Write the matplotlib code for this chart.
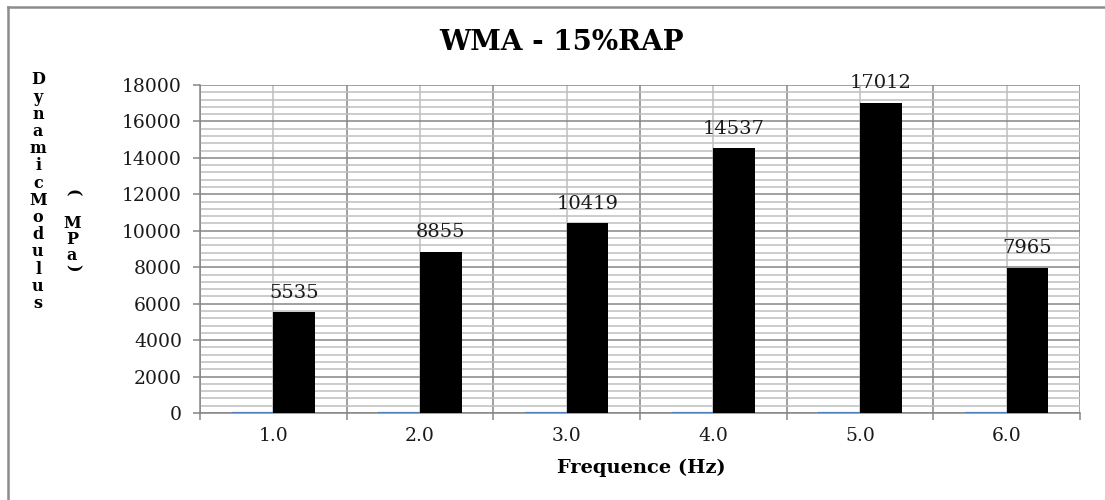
import matplotlib
matplotlib.use("Agg")
import matplotlib.pyplot as plt
import numpy as np
from matplotlib.ticker import MultipleLocator, FixedLocator
from matplotlib.lines import Line2D

categories = ["1.0", "2.0", "3.0", "4.0", "5.0", "6.0"]
frequency = [1.0, 2.0, 3.0, 4.0, 5.0, 6.0]
modulus = [5535, 8855, 10419, 14537, 17012, 7965]
title = "WMA - 15%RAP"
xlabel = "Frequence (Hz)"
ylabel_word = "DynamicModulus"
ylabel_unit = "MPa"

plt.rcParams["font.family"] = ["DejaVu Serif"]

W, H = 1105, 500
fig = plt.figure(figsize=(W / 100, H / 100), dpi=100)
ax = fig.add_axes([200 / W, (H - 413) / H, 880 / W, 328 / H])

MAJOR = "#868686"
MINOR = "#bfbfbf"
TXT = "#1a1a1a"

x = np.arange(len(categories))
w = 0.283
ax.bar(x - w / 2, frequency, width=w, color="#4f81bd", edgecolor="#4f81bd",
       linewidth=1.6, zorder=4)
ax.bar(x + w / 2, modulus, width=w, color="black", zorder=3)
for xi, v in zip(x, modulus):
    ax.annotate(f"{v}", (xi + w / 2, v), xytext=(0, 10.5),
                textcoords="offset points", ha="center", va="baseline",
                fontsize=14, color=TXT, zorder=5)

ax.set_xlim(-0.5, len(categories) - 0.5)
ax.set_ylim(0, 18000)
ax.yaxis.set_major_locator(MultipleLocator(2000))
ax.yaxis.set_minor_locator(MultipleLocator(400))
ax.set_xticks(x)
ax.set_xticklabels(categories)
ax.xaxis.set_minor_locator(FixedLocator(np.arange(-0.5, len(categories), 1.0)))

# gridlines: darker at majors / category boundaries, lighter at minors / centres
ax.grid(axis="y", which="minor", color=MINOR, lw=1.1, zorder=1)
ax.grid(axis="x", which="major", color=MINOR, lw=1.1, zorder=1)
ax.grid(axis="y", which="major", color=MAJOR, lw=1.1, zorder=1)
ax.grid(axis="x", which="minor", color=MAJOR, lw=1.1, zorder=1)
ax.set_axisbelow(True)

for s in ax.spines.values():
    s.set_color(MAJOR)
    s.set_linewidth(1.1)
    s.set_zorder(2)
ax.spines["top"].set_visible(False)
ax.spines["right"].set_visible(False)

ax.tick_params(axis="y", which="major", length=5, width=1.1, color=MAJOR,
               labelsize=13.5, pad=8, labelcolor=TXT)
ax.tick_params(axis="y", which="minor", length=0)
ax.tick_params(axis="x", which="major", length=0, labelsize=13.5, pad=10,
               labelcolor=TXT)
ax.tick_params(axis="x", which="minor", length=5, width=1.1, color=MAJOR)

fig.text(561.5 / W, (H - 50) / H, title, ha="center", va="baseline",
         fontsize=20, fontweight="bold", color="black")
fig.text(641 / W, (H - 473) / H, xlabel, ha="center", va="baseline",
         fontsize=14, fontweight="bold", color="black")

# stacked vertical axis title
y0, dy = 80, 17.2
for i, ch in enumerate(ylabel_word):
    fig.text(38 / W, (H - (y0 + i * dy)) / H, ch, ha="center", va="center",
             fontsize=11.5, fontweight="bold", color="black")
fig.text(72 / W, (H - 193) / H, "(", rotation=-90, ha="center",
         va="center", fontsize=11.5, fontweight="bold", color="black")
for ch, yy in zip(ylabel_unit, [223, 240, 255]):
    fig.text(72 / W, (H - yy) / H, ch, ha="center", va="center",
             fontsize=11.5, fontweight="bold", color="black")
fig.text(72 / W, (H - 268) / H, ")", rotation=-90, ha="center",
         va="center", fontsize=11.5, fontweight="bold", color="black")

# chart-area border (left and top edges)
fig.add_artist(Line2D([8 / W, 8 / W], [0, 1 - 7 / H],
                      transform=fig.transFigure, color="#8c8c8c", lw=1.8))
fig.add_artist(Line2D([8 / W, 1], [1 - 7 / H, 1 - 7 / H],
                      transform=fig.transFigure, color="#8c8c8c", lw=1.8))

fig.savefig("out.png", dpi=100)
